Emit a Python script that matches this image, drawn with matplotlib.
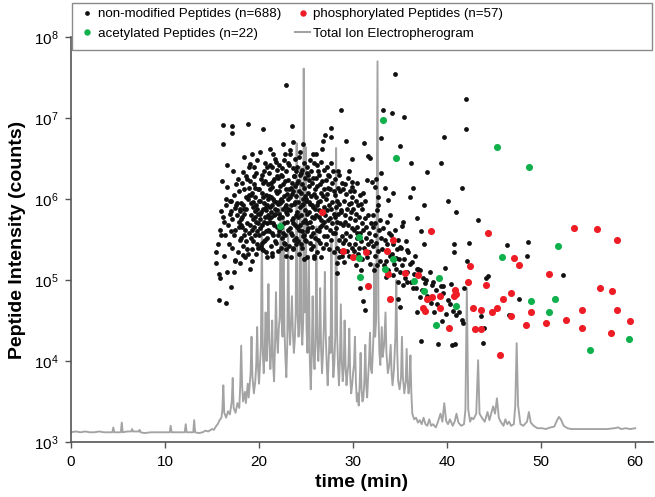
import matplotlib
matplotlib.use("Agg")
import matplotlib.pyplot as plt
from matplotlib.lines import Line2D
from matplotlib.patches import Rectangle
from matplotlib.ticker import LogLocator, NullLocator, LogFormatterMathtext

plt.rcParams['font.family'] = ['Liberation Sans', 'DejaVu Sans']
plt.rcParams['mathtext.fontset'] = 'custom'
plt.rcParams['mathtext.rm'] = 'Liberation Sans'
plt.rcParams['mathtext.default'] = 'regular'

# ---------------- data (time in min, log10 intensity) ----------------
black_t = [
    15.4, 15.74, 15.9, 15.7, 15.62, 15.83, 15.47, 15.91, 15.97,
    16.2, 16.2, 16.56, 16.5, 16.6, 16.5, 16.13, 16.38, 16.71, 16.44, 16.82, 16.93, 16.27, 16.64, 16.86, 16.31, 16.97, 16.09,
    17.1, 17.1, 17.0, 17.4, 17.3, 17.0, 17.91, 17.23, 17.56, 17.68, 17.17, 17.62, 17.83, 17.36, 17.49, 17.94, 17.12, 17.71, 17.42, 17.88, 17.31, 17.77, 17.07, 17.58, 17.97,
    18.8, 18.4, 18.3, 18.7, 18.4, 18.9, 18.0, 18.4, 18.2, 18.62, 18.13, 18.88, 18.37, 18.71, 18.04, 18.52, 18.93, 18.21, 18.66, 18.33, 18.08, 18.79, 18.47, 18.17, 18.96, 18.58, 18.27, 18.84, 18.41, 18.12, 18.69, 18.56,
    19.0, 19.5, 19.6, 19.22, 19.83, 19.07, 19.46, 19.71, 19.28, 19.59, 19.91, 19.13, 19.37, 19.52, 19.68, 19.96, 19.18, 19.41, 19.63, 19.86, 19.03, 19.26, 19.44, 19.77, 19.92, 19.11, 19.34, 19.57, 19.81, 19.24, 19.66, 19.89, 19.49, 19.16, 19.73, 19.31, 19.98, 19.54,
    20.4, 20.62, 20.08, 20.87, 20.33, 20.52, 20.17, 20.96, 20.44, 20.02, 20.74, 20.27, 20.91, 20.58, 20.12, 20.81, 20.38, 20.69, 20.06, 20.47, 20.93, 20.22, 20.54, 20.83, 20.14, 20.31, 20.72, 20.98, 20.41, 20.11, 20.63, 20.29, 20.89, 20.57, 20.36, 20.78, 20.24, 20.66, 20.79, 20.61,
    21.2, 21.5, 21.71, 21.18, 21.93, 21.42, 21.07, 21.63, 21.29, 21.86, 21.51, 21.12, 21.77, 21.38, 21.96, 21.24, 21.59, 21.03, 21.82, 21.46, 21.14, 21.68, 21.33, 21.91, 21.56, 21.09, 21.74, 21.27, 21.48, 21.88, 21.16, 21.62, 21.36, 21.97, 21.05, 21.53, 21.79, 21.22, 21.66, 21.41, 21.84, 21.31,
    22.87, 22.8, 22.5, 22.63, 22.14, 22.92, 22.37, 22.06, 22.78, 22.46, 22.21, 22.88, 22.53, 22.11, 22.69, 22.32, 22.97, 22.42, 22.03, 22.74, 22.26, 22.58, 22.91, 22.17, 22.49, 22.84, 22.08, 22.66, 22.34, 22.95, 22.23, 22.57, 22.81, 22.12, 22.44, 22.72, 22.29, 22.61, 22.02, 22.86, 22.39, 22.19,
    23.5, 23.65, 23.34, 23.86, 23.12, 23.57, 23.93, 23.21, 23.68, 23.04, 23.47, 23.79, 23.16, 23.62, 23.38, 23.91, 23.07, 23.53, 23.27, 23.84, 23.43, 23.11, 23.72, 23.31, 23.96, 23.59, 23.02, 23.46, 23.81, 23.24, 23.66, 23.09, 23.52, 23.88, 23.36, 23.74, 23.18, 23.61, 23.98, 23.41, 23.29, 23.77,
    24.7, 24.28, 24.83, 24.06, 24.61, 24.39, 24.92, 24.17, 24.52, 24.76, 24.03, 24.44, 24.88, 24.23, 24.67, 24.11, 24.56, 24.97, 24.33, 24.72, 24.08, 24.48, 24.86, 24.19, 24.63, 24.37, 24.94, 24.02, 24.54, 24.81, 24.26, 24.69, 24.13, 24.42, 24.91, 24.58, 24.21, 24.77, 24.46, 24.34,
    25.7, 25.42, 25.13, 25.87, 25.56, 25.24, 25.79, 25.07, 25.63, 25.36, 25.92, 25.18, 25.51, 25.84, 25.03, 25.47, 25.71, 25.27, 25.96, 25.11, 25.58, 25.33, 25.89, 25.06, 25.66, 25.41, 25.21, 25.77, 25.53, 25.14, 25.94, 25.38, 25.69, 25.02, 25.49, 25.82, 25.29, 25.61,
    26.1, 26.8, 26.7, 26.57, 26.14, 26.88, 26.36, 26.03, 26.71, 26.44, 26.92, 26.21, 26.63, 26.08, 26.49, 26.83, 26.27, 26.96, 26.41, 26.12, 26.74, 26.33, 26.58, 26.06, 26.86, 26.47, 26.19, 26.68, 26.38, 26.93, 26.24, 26.52, 26.79, 26.16, 26.64, 26.31,
    27.05, 27.66, 27.7, 27.62, 27.18, 27.87, 27.41, 27.07, 27.73, 27.33, 27.94, 27.22, 27.56, 27.11, 27.81, 27.47, 27.28, 27.92, 27.64, 27.03, 27.38, 27.77, 27.14, 27.53, 27.86, 27.26, 27.69, 27.09, 27.44, 27.97, 27.36, 27.58,
    28.72, 28.3, 28.3, 28.48, 28.13, 28.82, 28.36, 28.61, 28.07, 28.93, 28.27, 28.54, 28.17, 28.76, 28.42, 28.04, 28.67, 28.33, 28.89, 28.21, 28.58, 28.11, 28.79, 28.46, 28.96, 28.24, 28.63, 28.38, 28.86, 28.52,
    29.3, 29.9, 29.6, 29.9, 29.9, 29.46, 29.13, 29.72, 29.28, 29.87, 29.04, 29.57, 29.36, 29.81, 29.19, 29.64, 29.09, 29.48, 29.93, 29.26, 29.68, 29.14, 29.53, 29.84, 29.32, 29.61, 29.07, 29.77,
    30.41, 30.12, 30.78, 30.26, 30.57, 30.04, 30.88, 30.33, 30.66, 30.18, 30.92, 30.47, 30.09, 30.72, 30.37, 30.83, 30.22, 30.61, 30.14, 30.52, 30.96, 30.7, 30.29, 30.81, 30.44,
    31.2, 31.6, 31.8, 31.5, 31.1, 31.25, 31.0, 31.1, 31.3, 31.63, 31.22, 31.87, 31.41, 31.08, 31.74, 31.33, 31.91, 31.56, 31.16, 31.69, 31.44, 31.83,
    32.0, 32.6, 32.7, 32.3, 32.4, 32.57, 32.16, 32.83, 32.38, 32.07, 32.71, 32.29, 32.92, 32.46, 32.13, 32.66, 32.34, 32.88, 32.52, 32.22,
    33.16, 33.0, 33.0, 33.4, 33.7, 33.9, 33.58, 33.17, 33.83, 33.36, 33.66, 33.08, 33.91, 33.47, 33.26, 33.74, 33.52,
    34.47, 34.15, 34.2, 34.43, 34.08, 34.76, 34.27, 34.62, 34.14, 34.88, 34.37, 34.57, 34.21, 34.83,
    35.43, 35.0, 35.3, 35.2, 35.67, 35.13, 35.86, 35.42, 35.24, 35.78, 35.55, 35.33,
    36.2, 36.4, 36.1, 36.8, 36.62, 36.27, 36.86, 36.43, 36.14, 36.71,
    37.9, 37.55, 37.2, 37.2, 37.1, 37.4, 37.7, 37.3, 37.85,
    38.2, 38.5, 38.8, 38.3, 38.6, 38.95, 39.0, 39.4, 39.65,
    39.3, 39.6, 39.9, 39.5, 40.1, 39.8,
    40.5, 40.8, 40.9, 40.3, 40.6, 40.4,
    41.6, 41.55, 41.7, 41.3, 41.8,
    42.0, 42.0, 43.3, 42.3, 42.1, 44.15, 44.4, 43.6, 43.9, 43.8,
    46.4, 48.6, 48.5, 52.3, 47.7, 46.6,
    35.0, 35.7, 34.6, 36.1, 36.8, 35.0, 35.7, 36.4, 37.1, 37.8, 38.4, 39.6, 40.1, 41.0, 35.0, 34.8, 36.8, 40.7, 40.7, 37.5,
    19.0, 19.3, 18.0, 17.45, 18.3, 20.8, 21.35, 22.9, 23.65, 25.1, 25.8, 20.4,
]
black_log = [
    5.21, 5.07, 5.03, 4.75, 5.45, 5.62, 5.35, 5.85, 5.55,
    6.91, 6.675, 6.42, 6.0, 5.10, 4.72, 5.78, 5.55, 5.68, 5.92, 5.45, 5.82, 5.30, 6.15, 5.98, 5.72, 5.60, 6.22,
    6.90, 6.82, 5.98, 5.885, 5.10, 4.91, 6.10, 6.35, 6.18, 5.95, 5.75, 5.80, 5.66, 5.55, 5.62, 5.50, 5.40, 5.35, 5.25, 5.72, 6.05, 6.25, 5.85, 5.92, 5.88,
    6.92, 6.52, 6.33, 6.25, 6.12, 6.13, 5.85, 5.82, 5.78, 6.02, 5.95, 6.05, 5.88, 5.70, 5.75, 5.62, 5.58, 5.65, 5.48, 5.42, 5.52, 5.32, 5.28, 6.20, 6.40, 5.88, 5.92, 6.00, 5.55, 5.68, 5.38, 6.28,
    6.43, 6.39, 6.14, 6.55, 6.48, 6.22, 6.28, 6.32, 6.08, 6.02, 6.12, 5.95, 5.90, 5.85, 5.92, 5.98, 5.80, 5.75, 5.72, 5.82, 5.68, 5.62, 5.66, 5.60, 5.70, 5.52, 5.48, 5.55, 5.45, 5.38, 5.32, 5.40, 6.18, 6.05, 5.88, 5.96, 5.56, 5.78,
    6.87, 6.45, 6.58, 6.40, 6.30, 6.35, 6.25, 6.18, 6.20, 6.12, 6.05, 6.08, 6.00, 5.95, 5.98, 5.92, 6.02, 5.86, 5.82, 5.88, 5.80, 5.84, 5.72, 5.70, 5.75, 5.68, 5.60, 5.62, 5.58, 5.64, 5.50, 5.46, 5.52, 5.48, 5.38, 5.35, 5.42, 6.22, 5.90, 5.78,
    6.62, 6.56, 6.50, 6.42, 6.36, 6.40, 6.32, 6.25, 6.20, 6.28, 6.22, 6.12, 6.10, 6.15, 6.08, 6.02, 5.98, 6.04, 5.96, 6.00, 5.90, 5.88, 5.92, 5.86, 5.80, 5.76, 5.82, 5.78, 5.70, 5.66, 5.72, 5.68, 5.58, 5.55, 5.60, 5.56, 5.46, 5.42, 5.48, 5.30, 6.46, 5.84,
    7.41, 6.56, 6.68, 6.48, 6.42, 6.35, 6.30, 6.26, 6.22, 6.28, 6.16, 6.12, 6.18, 6.10, 6.04, 6.00, 6.06, 5.98, 5.94, 5.90, 5.95, 5.88, 5.92, 5.82, 5.78, 5.84, 5.76, 5.70, 5.66, 5.72, 5.64, 5.58, 5.55, 5.60, 5.52, 5.45, 5.40, 5.46, 5.36, 5.30, 6.38, 5.98,
    6.90, 6.70, 6.55, 6.50, 6.45, 6.38, 6.34, 6.42, 6.28, 6.24, 6.20, 6.16, 6.12, 6.10, 6.14, 6.04, 6.00, 6.06, 6.02, 5.96, 5.92, 5.88, 5.94, 5.86, 5.80, 5.76, 5.82, 5.74, 5.68, 5.64, 5.70, 5.62, 5.56, 5.52, 5.58, 5.50, 5.42, 5.38, 5.44, 5.28, 6.60, 6.28,
    6.675, 6.52, 6.45, 6.40, 6.36, 6.30, 6.26, 6.22, 6.18, 6.14, 6.20, 6.08, 6.04, 6.10, 6.00, 5.96, 5.92, 5.98, 5.90, 5.94, 5.84, 5.80, 5.86, 5.78, 5.72, 5.68, 5.74, 5.66, 5.60, 5.56, 5.62, 5.54, 5.48, 5.44, 5.50, 5.40, 5.32, 5.26, 6.32, 6.58,
    6.55, 6.48, 6.40, 6.44, 6.34, 6.30, 6.26, 6.32, 6.20, 6.16, 6.12, 6.08, 6.04, 6.06, 6.00, 5.94, 5.90, 5.96, 5.88, 5.82, 5.78, 5.84, 5.76, 5.70, 5.66, 5.72, 5.64, 5.58, 5.54, 5.60, 5.52, 5.46, 5.42, 5.48, 5.38, 5.30, 6.24, 5.92,
    6.55, 6.71, 6.62, 6.46, 6.42, 6.36, 6.30, 6.26, 6.22, 6.18, 6.12, 6.16, 6.08, 6.02, 5.98, 6.04, 5.96, 5.90, 5.86, 5.92, 5.84, 5.78, 5.74, 5.80, 5.72, 5.66, 5.62, 5.68, 5.60, 5.54, 5.50, 5.46, 5.40, 5.34, 5.28, 6.34,
    6.79, 6.77, 6.88, 6.45, 6.40, 6.35, 6.28, 6.24, 6.20, 6.14, 6.10, 6.06, 6.12, 6.00, 5.96, 5.92, 5.86, 5.82, 5.88, 5.80, 5.74, 5.70, 5.66, 5.62, 5.58, 5.54, 5.50, 5.44, 5.38, 5.34, 6.30, 5.76,
    7.095, 5.21, 5.09, 6.30, 6.25, 6.20, 6.14, 6.10, 6.05, 6.12, 5.98, 5.94, 5.90, 5.86, 5.82, 5.78, 5.84, 5.72, 5.68, 5.64, 5.70, 5.58, 5.54, 5.50, 5.46, 5.40, 5.36, 6.35, 5.30, 5.28,
    6.72, 6.49, 6.34, 6.21, 6.15, 6.26, 6.18, 6.10, 6.06, 6.02, 5.98, 5.94, 5.88, 5.84, 5.80, 5.76, 5.72, 5.68, 5.64, 5.58, 5.54, 5.50, 5.44, 5.40, 5.36, 5.30, 5.22, 5.95,
    6.20, 6.10, 6.05, 5.98, 5.92, 5.88, 5.94, 5.82, 5.78, 5.74, 5.70, 5.66, 5.62, 5.58, 5.52, 5.48, 5.44, 5.40, 5.36, 5.32, 5.26, 4.90, 5.18, 5.12, 5.58,
    6.69, 6.53, 6.51, 6.23, 6.07, 5.98, 5.88, 4.74, 4.63, 5.80, 5.76, 5.70, 5.66, 5.62, 5.58, 5.52, 5.48, 5.44, 5.40, 5.34, 5.28, 5.20,
    6.21, 6.02, 5.92, 6.15, 6.25, 5.86, 5.80, 5.74, 5.70, 5.66, 5.62, 5.56, 5.52, 5.46, 5.42, 5.36, 5.30, 5.24, 5.18, 5.12,
    7.10, 6.75, 6.32, 6.13, 5.99, 5.80, 5.72, 5.64, 5.58, 5.50, 5.44, 5.38, 5.30, 5.24, 5.18, 5.12, 5.04,
    7.54, 7.06, 6.08, 5.62, 5.56, 5.50, 5.44, 5.38, 5.32, 5.26, 5.20, 5.14, 5.06, 4.98,
    7.01, 6.66, 5.71, 5.67, 5.48, 5.40, 5.34, 5.26, 5.18, 5.10, 5.02, 4.94,
    6.44, 6.13, 6.02, 5.77, 5.30, 5.22, 5.14, 5.08, 4.98, 4.90,
    6.33, 5.93, 5.60, 4.25, 5.12, 5.02, 4.96, 4.88, 4.80,
    5.10, 4.98, 4.88, 4.72, 4.60, 4.70, 4.21, 6.44, 6.77,
    4.92, 4.84, 4.58, 4.50, 5.97, 5.15,
    4.20, 4.21, 5.84, 4.70, 4.62, 4.95,
    6.14, 4.51, 4.47, 4.60, 4.90,
    7.23, 6.86, 5.74, 5.46, 5.23, 5.03, 5.05, 4.55, 4.41, 4.22,
    5.43, 5.47, 5.30, 5.06, 4.77, 4.57,
    5.41, 5.37, 5.27, 5.20, 5.14, 5.10, 4.98, 4.90, 4.79, 5.00, 4.94, 4.92, 4.75, 4.57, 4.67, 4.77, 4.61, 5.45, 5.35, 5.45,
    5.14, 5.24, 5.21, 5.24, 5.31, 5.28, 5.33, 5.38, 5.39, 5.29, 5.27, 5.37,
]

phos_t = [26.7, 38.25, 34.2, 28.97, 31.4, 33.65, 29.97, 42.4, 35.5, 33.7, 36.95, 42.2, 31.6,
          40.8, 40.9, 40.7, 38.4, 37.9, 39.25, 33.9, 37.45, 37.7, 39.25, 42.8, 40.2, 43.0,
          53.5, 55.9, 58.1, 44.3, 44.1, 47.1, 47.7, 50.8, 56.3, 57.55, 46.8, 45.96, 45.35,
          44.75, 43.6, 46.8, 48.9, 54.3, 58.1, 52.6, 59.5, 48.4, 50.5, 54.3, 57.4, 43.6, 45.6]
phos_log = [5.84, 5.60, 5.50, 5.36, 5.35, 5.36, 5.28, 5.17, 5.09, 5.07, 5.06, 4.98, 4.92,
            4.88, 4.83, 4.80, 4.79, 4.77, 4.80, 4.76, 4.65, 4.62, 4.66, 4.66, 4.41, 4.39,
            5.64, 5.63, 5.50, 5.58, 4.94, 5.27, 5.19, 5.07, 4.90, 4.86, 4.84, 4.77, 4.65,
            4.60, 4.63, 4.55, 4.60, 4.63, 4.63, 4.51, 4.49, 4.45, 4.47, 4.41, 4.35, 4.40, 4.08]

acet_t = [22.2, 33.2, 34.6, 30.6, 30.6, 34.2, 33.4, 30.7, 36.5, 39.1, 37.5, 40.9, 38.8,
          45.3, 48.7, 51.8, 45.8, 48.9, 51.5, 50.8, 55.2, 59.3]
acet_log = [5.67, 6.97, 6.51, 5.53, 5.27, 5.26, 5.14, 5.04, 4.99, 5.03, 4.86, 4.68, 4.45,
            6.64, 6.39, 5.42, 5.28, 4.74, 4.76, 4.61, 4.14, 4.27]

tie_t = [0.0, 0.5, 1.0, 1.5, 2.0, 2.5, 3.0, 3.5, 4.0, 4.4, 4.5, 4.6, 5.0, 5.3, 5.4, 5.5, 6.0, 6.4, 6.5, 6.6,
         7.2, 7.3, 7.4, 7.8, 8.5, 9.0, 9.5, 10.0, 10.5, 10.6, 10.7, 11.5, 12.1, 12.2, 12.3, 13.0, 13.1, 13.2,
         13.6, 14.0, 14.3, 14.6,
         15.0, 15.2, 15.4, 15.6, 15.8, 16.0, 16.1, 16.2, 16.3, 16.5, 16.7, 16.9, 17.1, 17.2, 17.3, 17.5, 17.7,
         17.9, 18.0, 18.1, 18.2, 18.3, 18.5, 18.6, 18.8, 18.9, 19.1, 19.2, 19.3, 19.45, 19.6, 19.7, 19.8, 19.9,
         20.0, 20.1,
         20.2, 20.3, 20.4, 20.5, 20.6, 20.7, 20.8, 20.9, 21.0, 21.1, 21.2, 21.3, 21.4, 21.5, 21.6, 21.7, 21.8,
         21.9, 22.0, 22.1, 22.2, 22.3, 22.4, 22.5, 22.6, 22.7, 22.8, 22.9, 23.0, 23.1, 23.2, 23.3, 23.4, 23.5,
         23.6, 23.7, 23.8, 23.9, 24.0, 24.1, 24.2, 24.3, 24.4, 24.5, 24.6, 24.7, 24.75, 24.85, 24.95, 25.05,
         25.15, 25.3, 25.4, 25.5, 25.6, 25.7, 25.8, 25.9, 26.0, 26.1, 26.2, 26.3, 26.4, 26.5, 26.6, 26.7, 26.8,
         26.9, 27.0, 27.1, 27.2, 27.3, 27.4, 27.5, 27.6, 27.7, 27.8, 27.9, 28.0, 28.1, 28.2, 28.3, 28.4, 28.5,
         28.6, 28.7, 28.8, 28.9, 29.0, 29.1, 29.2, 29.3, 29.4, 29.5, 29.6, 29.7, 29.8, 29.9, 30.0, 30.1, 30.2,
         30.3, 30.4, 30.5, 30.6, 30.7, 30.8, 30.9, 31.0, 31.1, 31.2, 31.3, 31.4, 31.5, 31.6, 31.7, 31.8, 31.9,
         32.0, 32.1, 32.2, 32.25, 32.35, 32.45, 32.6, 32.7, 32.8, 32.9, 33.05, 33.15, 33.3, 33.45, 33.55, 33.7,
         33.85, 34.0, 34.1, 34.2, 34.35, 34.5, 34.6, 34.7, 34.8, 34.95, 35.1, 35.2, 35.3, 35.45, 35.6, 35.7,
         35.8, 35.9, 36.0, 36.1, 36.2, 36.3, 36.5, 36.7, 36.9, 37.1, 37.3, 37.5, 37.7, 37.9, 38.1, 38.3, 38.5,
         38.8, 39.0, 39.3, 39.5, 39.7, 39.9, 40.1, 40.3, 40.6, 40.8, 41.0, 41.2, 41.5, 41.8, 41.95, 42.1, 42.25,
         42.45, 42.6, 42.8, 43.1, 43.3, 43.45, 43.7, 44.0, 44.3, 44.5, 44.9, 45.1, 45.3, 45.5, 45.7, 46.0, 46.2,
         46.4, 46.6, 46.8, 47.1, 47.25, 47.4, 47.55, 47.8, 48.1, 48.5, 48.7, 48.9, 49.2, 49.6, 50.1, 50.5, 51.0,
         51.4, 51.7, 51.9, 52.1, 52.4, 52.8, 53.2, 54.0, 55.0, 56.0, 57.0, 57.8, 58.2, 58.5, 59.0, 59.5, 60.0]
tie_log = [3.12, 3.13, 3.12, 3.13, 3.12, 3.12, 3.13, 3.12, 3.12, 3.12, 3.18, 3.12, 3.12, 3.12, 3.24, 3.12, 3.13, 3.13, 3.16, 3.13,
           3.13, 3.15, 3.12, 3.11, 3.12, 3.12, 3.12, 3.12, 3.12, 3.20, 3.12, 3.12, 3.12, 3.22, 3.12, 3.12, 3.27, 3.12,
           3.11, 3.12, 3.14, 3.13,
           3.16, 3.15, 3.19, 3.22, 3.27, 3.30, 3.40, 3.70, 3.36, 3.30, 3.38, 3.34, 3.50, 3.79, 3.42, 3.36, 3.48,
           3.42, 3.70, 4.19, 3.70, 3.50, 3.62, 3.48, 3.72, 3.55, 3.85, 4.30, 3.80, 3.60, 3.75, 3.95, 4.42, 3.90,
           3.72, 3.95,
           4.20, 5.70, 4.10, 3.85, 4.15, 4.60, 4.00, 4.30, 4.95, 4.20, 3.90, 4.10, 4.50, 3.95, 3.75, 4.20, 4.85,
           4.30, 4.10, 4.40, 4.55, 5.90, 4.50, 4.30, 5.75, 4.40, 4.05, 3.80, 4.20, 5.60, 4.45, 4.20, 4.50, 4.80,
           4.35, 4.10, 4.25, 4.60, 6.69, 4.55, 4.30, 4.50, 6.40, 4.40, 4.20, 4.50, 7.61, 4.60, 6.64, 4.40,
           4.10, 5.30, 4.00, 3.65, 4.05, 4.80, 4.10, 3.90, 4.20, 5.66, 4.30, 4.00, 4.25, 4.90, 4.15, 3.85, 4.10,
           4.45, 5.10, 4.30, 3.95, 3.70, 4.00, 4.30, 4.10, 5.45, 4.20, 3.80, 3.95, 4.30, 6.63, 4.35, 3.95, 3.70,
           4.00, 4.70, 4.00, 3.75, 3.90, 4.50, 3.95, 3.70, 3.85, 3.95, 4.40, 3.80, 3.60, 3.70, 3.85, 3.95, 4.30,
           3.75, 3.50, 3.60, 3.45, 3.70, 4.10, 3.65, 3.50, 3.55, 3.75, 4.20, 3.70, 3.55, 3.80, 4.00, 4.35, 3.90,
           3.85, 4.10, 4.40, 5.20, 4.30, 4.50, 7.70, 4.60, 4.10, 3.95, 4.42, 4.05, 4.20, 4.60, 4.10, 3.85,
           3.95, 4.20, 3.85, 3.70, 3.90, 4.30, 5.00, 4.10, 3.75, 3.65, 3.80, 4.30, 3.80, 3.60, 3.75, 4.15,
           3.75, 3.60, 3.70, 4.07, 3.60, 3.35, 3.28, 3.30, 3.24, 3.27, 3.22, 3.30, 3.22, 3.20, 3.28, 3.20, 3.22,
           3.18, 3.24, 3.35, 3.25, 3.48, 3.26, 3.22, 3.28, 3.20, 3.25, 3.35, 3.24, 3.20, 3.22, 3.40, 4.90, 3.40,
           3.25, 3.30, 3.28, 3.35, 4.01, 3.35, 3.30, 3.25, 3.37, 3.27, 3.44, 3.35, 3.54, 3.30, 3.25, 3.20, 3.28,
           3.22, 3.25, 3.20, 3.22, 3.45, 4.22, 3.45, 3.22, 3.20, 3.25, 3.37, 3.24, 3.20, 3.17, 3.17, 3.16, 3.18,
           3.19, 3.27, 3.31, 3.28, 3.20, 3.17, 3.16, 3.16, 3.16, 3.16, 3.16, 3.17, 3.18, 3.16, 3.17, 3.16, 3.17]

labels = ["non-modified Peptides (n=688)", "acetylated Peptides (n=22)",
          "phosphorylated Peptides (n=57)", "Total Ion Electropherogram"]
x_ticks = [0, 10, 20, 30, 40, 50, 60]

BLACK = '#111111'
RED = '#ee1c24'
GREEN = '#10b04c'
GREY = '#a3a3a3'

# ---------------- figure ----------------
W, H = 655, 497
fig = plt.figure(figsize=(W / 100, H / 100), dpi=100)
ax = fig.add_axes([71 / W, 1 - 442 / H, (653 - 71) / W, (442 - 37) / H])

ax.plot(tie_t, [10 ** v for v in tie_log], color=GREY, lw=1.35, zorder=1)
ax.scatter(black_t, [10 ** v for v in black_log], s=12, c=BLACK, linewidths=0, zorder=2)
ax.scatter(phos_t, [10 ** v for v in phos_log], s=26, c=RED, linewidths=0, zorder=3)
ax.scatter(acet_t, [10 ** v for v in acet_log], s=26, c=GREEN, linewidths=0, zorder=3)

ax.set_yscale('log')
ax.set_ylim(1e3, 1e8)
ax.set_xlim(0, 61.9)
ax.set_xticks(x_ticks)
ax.yaxis.set_major_locator(LogLocator(base=10, numticks=10))
ax.yaxis.set_major_formatter(LogFormatterMathtext())
ax.yaxis.set_minor_locator(NullLocator())

for side in ('top', 'right'):
    ax.spines[side].set_visible(False)
for side in ('left', 'bottom'):
    ax.spines[side].set_color('#555555')
    ax.spines[side].set_linewidth(1.2)
ax.tick_params(axis='both', direction='out', length=4, width=1, color='#555555',
               labelsize=11, labelcolor='black', pad=5)

ax.set_xlabel('time (min)', fontsize=14, fontweight='bold', labelpad=4)
ax.set_ylabel('Peptide Intensity (counts)', fontsize=14, fontweight='bold', labelpad=6)

handles = [
    Line2D([], [], ls='none', marker='o', ms=3.4, mfc=BLACK, mec='none'),
    Line2D([], [], ls='none', marker='o', ms=4.6, mfc=GREEN, mec='none'),
    Line2D([], [], ls='none', marker='o', ms=4.6, mfc=RED, mec='none'),
    Line2D([], [], color=GREY, lw=1.5),
]
fig.legend(handles, labels, ncol=2, loc='upper left', bbox_to_anchor=(80 / W, 1 - 8 / H),
           frameon=False, fontsize=9.6, handlelength=1.1, handletextpad=0.25,
           columnspacing=1.05, labelspacing=0.55, borderpad=0, borderaxespad=0)
fig.patches.append(Rectangle((72 / W, 1 - 50 / H), (652 - 72) / W, 47 / H,
                             transform=fig.transFigure, fill=False,
                             edgecolor='#8a8a8a', linewidth=1.0))

fig.savefig('out.png', dpi=100)
